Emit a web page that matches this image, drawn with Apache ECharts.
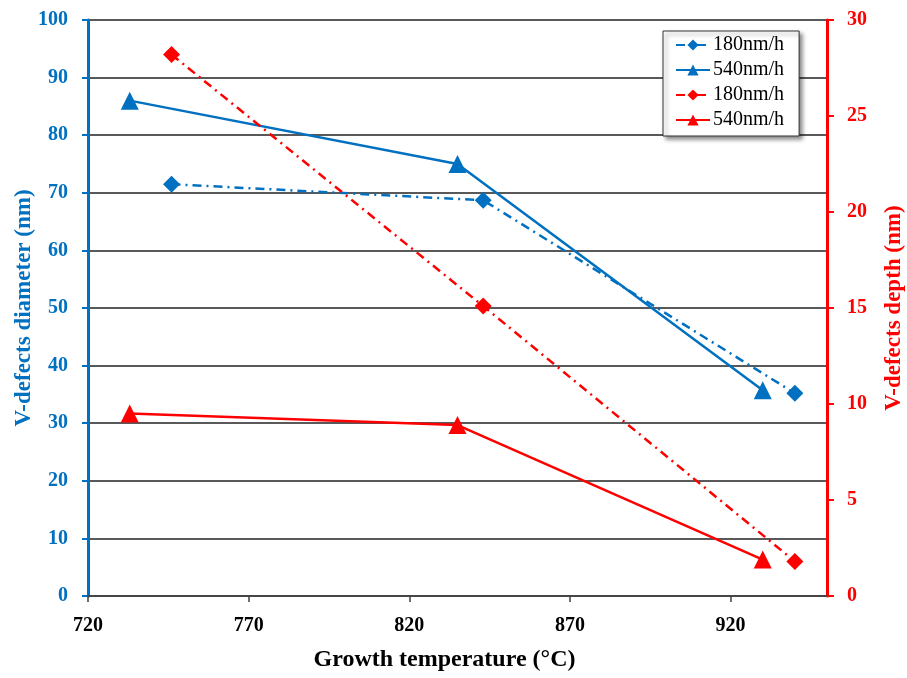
<!DOCTYPE html>
<html>
<head>
<meta charset="utf-8">
<script src="https://cdn.jsdelivr.net/npm/echarts@6/dist/echarts.min.js"></script>
<style>
html,body{margin:0;padding:0;background:#fff;}
#chart{width:907px;height:678px;}
</style>
</head>
<body>
<div id="chart"></div>
<script>
// Growth temperature (°C)
const temps180 = [746, 843, 940];
const temps540 = [733, 835, 930];
// V-defects diameter (nm), left axis
const diam180 = [71.5, 68.7, 35.2];
const diam540 = [86.0, 75.0, 35.7];
// V-defects depth (nm), right axis
const depth180 = [28.2, 15.1, 1.8];
const depth540 = [9.5, 8.9, 1.9];

const BLUE = '#0070C0';
const RED = '#FF0000';
const FONT = "'Liberation Serif', 'Times New Roman', serif";
const dashDot = [9, 5, 2, 5];

function pairs(xs, ys) { return xs.map((x, i) => [x, ys[i]]); }

const chart = echarts.init(document.getElementById('chart'), null, {renderer: 'canvas'});
chart.setOption({
  animation: false,
  backgroundColor: '#fff',
  grid: {left: 88, right: 80, top: 20, bottom: 82, containLabel: false, outerBoundsMode: 'none'},
  legend: {
    orient: 'vertical',
    left: 663, top: 31,
    padding: [4, 15, 6, 12],
    itemWidth: 34, itemHeight: 14, itemGap: 5,
    backgroundColor: '#fff',
    borderColor: '#333', borderWidth: 1,
    shadowColor: 'rgba(0,0,0,0.45)', shadowBlur: 4, shadowOffsetX: 3, shadowOffsetY: 3,
    textStyle: {fontFamily: FONT, fontSize: 20, lineHeight: 19, color: '#000', padding: [0, 0, 0, -2]},
    formatter: function (name) { return name.split(' ')[0]; },
    data: ['180nm/h dia', '540nm/h dia', '180nm/h dep', '540nm/h dep']
  },
  xAxis: {
    type: 'value', min: 720, max: 950, interval: 50,
    name: 'Growth temperature (°C)',
    nameLocation: 'middle', nameGap: 52,
    nameTextStyle: {fontFamily: FONT, fontSize: 24, fontWeight: 'bold', color: '#000', padding: [0, 26, 0, 0]},
    axisLine: {lineStyle: {color: '#404040', width: 1.5}},
    axisTick: {show: true, length: 6, lineStyle: {color: '#404040', width: 1.5}},
    axisLabel: {showMaxLabel: false, margin: 20, fontFamily: FONT, fontSize: 20, fontWeight: 'bold', color: '#000'},
    splitLine: {show: false}
  },
  yAxis: [{
    type: 'value', min: 0, max: 100, interval: 10, position: 'left',
    name: 'V-defects diameter (nm)', nameLocation: 'middle', nameGap: 52, nameRotate: 90,
    nameMoveOverlap: false,
    nameTextStyle: {fontFamily: FONT, fontSize: 23, fontWeight: 'bold', color: BLUE},
    axisLine: {show: true, lineStyle: {color: BLUE, width: 3}},
    axisTick: {show: true, length: 6, lineStyle: {color: BLUE, width: 2}},
    axisLabel: {margin: 20, fontFamily: FONT, fontSize: 20, fontWeight: 'bold', color: BLUE},
    splitLine: {show: true, lineStyle: {color: '#222', width: 1.5}}
  }, {
    type: 'value', min: 0, max: 30, interval: 5, position: 'right',
    name: 'V-defects depth (nm)', nameLocation: 'middle', nameGap: 56, nameRotate: 90,
    nameTextStyle: {fontFamily: FONT, fontSize: 23, fontWeight: 'bold', color: RED},
    axisLine: {show: true, lineStyle: {color: RED, width: 3}},
    axisTick: {show: true, length: 7, lineStyle: {color: RED, width: 2}},
    axisLabel: {margin: 20, fontFamily: FONT, fontSize: 20, fontWeight: 'bold', color: RED},
    splitLine: {show: false}
  }],
  series: [{
    name: '180nm/h dia', type: 'line', yAxisIndex: 0,
    data: pairs(temps180, diam180),
    symbol: 'diamond', symbolSize: 17,
    itemStyle: {color: BLUE},
    lineStyle: {color: BLUE, width: 2.5, type: dashDot}
  }, {
    name: '540nm/h dia', type: 'line', yAxisIndex: 0,
    data: pairs(temps540, diam540),
    symbol: 'triangle', symbolSize: 18,
    itemStyle: {color: BLUE},
    lineStyle: {color: BLUE, width: 2.5}
  }, {
    name: '180nm/h dep', type: 'line', yAxisIndex: 1,
    data: pairs(temps180, depth180),
    symbol: 'diamond', symbolSize: 17,
    itemStyle: {color: RED},
    lineStyle: {color: RED, width: 2.5, type: dashDot}
  }, {
    name: '540nm/h dep', type: 'line', yAxisIndex: 1,
    data: pairs(temps540, depth540),
    symbol: 'triangle', symbolSize: 18,
    itemStyle: {color: RED},
    lineStyle: {color: RED, width: 2.5}
  }]
});
</script>
</body>
</html>
